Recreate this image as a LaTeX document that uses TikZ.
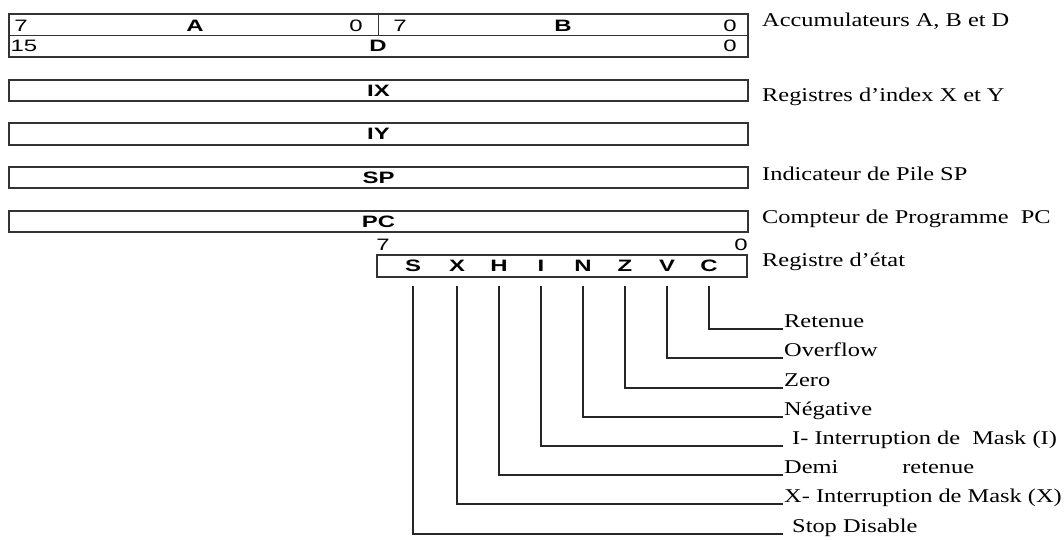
\documentclass[tikz,border=0pt]{standalone}
\usepackage{fontspec}
\setmainfont{Liberation Serif}
\newfontfamily\lblfont[FakeStretch=1.25]{Liberation Serif}
\newfontfamily\regfont[FakeStretch=1.45]{Liberation Sans}
\begin{document}
\begin{tikzpicture}[x=1pt,y=-1pt,
  regbox/.style={draw=black!80, line width=1.4pt, inner sep=0pt},
  bitn/.style={font=\regfont\fontsize{16.5}{17}\selectfont, inner sep=0pt},
  bitb/.style={font=\regfont\bfseries\fontsize{16.5}{17}\selectfont, inner sep=0pt},
  lbl/.style={font=\lblfont\fontsize{19.5}{20}\selectfont, anchor=base west, inner sep=0pt},
  wire/.style={draw=black!85, line width=1.2pt}]
\fill[white] (0,0) rectangle (1064,540);
\useasboundingbox (0,0) rectangle (1064,540);

% Accumulators
\node[regbox, minimum width=739pt, minimum height=43pt] (acc) at (378.5,35.5) {};
\draw[regbox] (acc.west) -- (acc.east);
\draw[regbox] (acc.north) -- (acc.center);
\node[bitn] (a7) at (21,26) {7};
\node[bitb] (aA) at (195,26) {A};
\node[bitn] (a0) at (356,26) {0};
\node[bitn] (b7) at (400,26) {7};
\node[bitb] (bB) at (563,26) {B};
\node[bitn] (b0) at (730,26) {0};
\node[bitn] (d15) at (24,46) {15};
\node[bitb] (dD) at (378,46) {D};
\node[bitn] (d0) at (730,46) {0};

% 16-bit registers
\node[regbox, bitb, minimum width=739pt, minimum height=21pt] (ix) at (378.5,90.5) {IX};
\node[regbox, bitb, minimum width=739pt, minimum height=22pt] (iy) at (378.5,134) {IY};
\node[regbox, bitb, minimum width=739pt, minimum height=21pt] (sp) at (378.5,177.5) {SP};
\node[regbox, bitb, minimum width=739pt, minimum height=21pt] (pc) at (378.5,221.5) {PC};

% status register
\node[bitn] (c7) at (383,245) {7};
\node[bitn] (c0) at (741,245) {0};
\node[regbox, minimum width=370pt, minimum height=22pt] (ccr) at (562,266) {};
\node[bitb] (fS) at (413,266) {S};
\node[bitb] (fX) at (457,266) {X};
\node[bitb] (fH) at (499,266) {H};
\node[bitb] (fI) at (541,266) {I};
\node[bitb] (fN) at (583,266) {N};
\node[bitb] (fZ) at (625,266) {Z};
\node[bitb] (fV) at (667,266) {V};
\node[bitb] (fC) at (709,266) {C};

% right labels
\node[lbl] (lacc) at (762,27) {Accumulateurs A, B et D};
\node[lbl] (lix) at (762,102) {Registres d’index X et Y};
\node[lbl] (lsp) at (762,180) {Indicateur de Pile SP};
\node[lbl] (lpc) at (762,223) {Compteur de Programme\ \ PC};
\node[lbl] (lccr) at (762,266) {Registre d’état};

% flag descriptions
\coordinate (top) at (0,286);
\coordinate (eC) at (783,329);
\coordinate (eV) at (783,358);
\coordinate (eZ) at (783,388);
\coordinate (eN) at (783,417);
\coordinate (eI) at (783,446);
\coordinate (eH) at (783,475);
\coordinate (eX) at (783,504);
\coordinate (eS) at (783,534);
\node[lbl] (lC) at (784,327) {Retenue};
\node[lbl] (lV) at (784,356) {Overflow};
\node[lbl] (lZ) at (784,386) {Zero};
\node[lbl] (lN) at (784,415) {Négative};
\node[lbl] (lI) at (792,444) {I- Interruption de\ \ Mask (I)};
\node[lbl] (lH) at (784,473) {Demi\hspace*{64pt}retenue};
\node[lbl] (lX) at (784,502) {X- Interruption de Mask (X)};
\node[lbl] (lS) at (792,532) {Stop Disable};

\draw[wire] (fC |- top) |- (eC);
\draw[wire] (fV |- top) |- (eV);
\draw[wire] (fZ |- top) |- (eZ);
\draw[wire] (fN |- top) |- (eN);
\draw[wire] (fI |- top) |- (eI);
\draw[wire] (fH |- top) |- (eH);
\draw[wire] (fX |- top) |- (eX);
\draw[wire] (fS |- top) |- (eS);
\end{tikzpicture}
\end{document}
